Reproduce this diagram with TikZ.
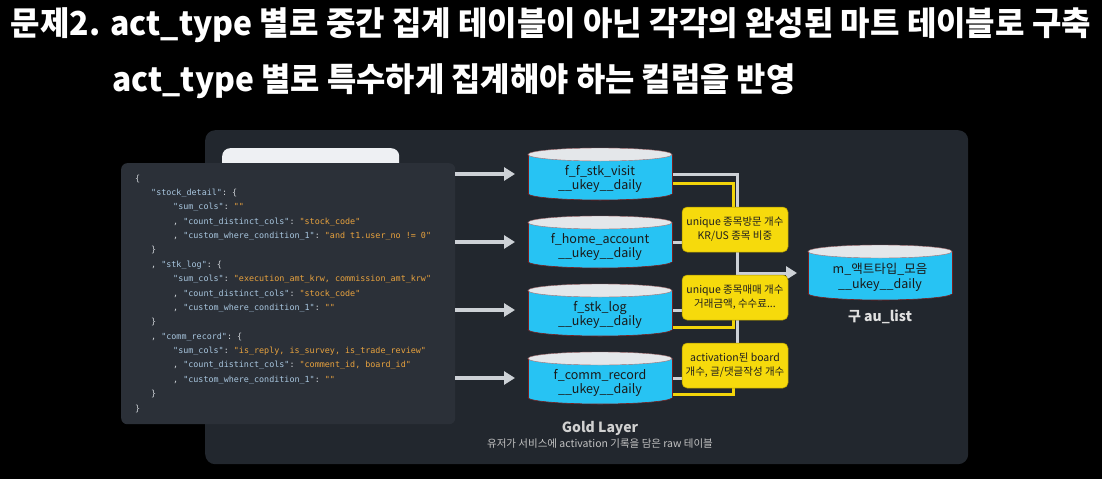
\documentclass[tikz,border=0pt]{standalone}
\usepackage{fontspec}
\setmainfont{Noto Sans CJK KR}
\setmonofont{DejaVu Sans Mono}
\usetikzlibrary{arrows.meta,calc}
\definecolor{goldpanel}{HTML}{22272E}
\definecolor{codepanel}{HTML}{2B3038}
\definecolor{whitebox}{HTML}{EEF0F3}
\definecolor{cylbody}{HTML}{27C3F3}
\definecolor{cyltop}{HTML}{E4E7EA}
\definecolor{cyledge}{HTML}{7A1E1E}
\definecolor{ybox}{HTML}{F6DA0C}
\definecolor{yedge}{HTML}{A89300}
\definecolor{yline}{HTML}{F2D40A}
\definecolor{gline}{HTML}{CDD1D6}
\definecolor{ckey}{HTML}{A9C7E0}
\definecolor{cval}{HTML}{E8A23E}
\definecolor{cpun}{HTML}{CFD3D8}
\newcommand\kq[1]{\textcolor{ckey}{"#1"}}
\newcommand\vq[1]{\textcolor{cval}{"#1"}}
\pgfdeclarelayer{bg}
\pgfdeclarelayer{wires}
\pgfsetlayers{bg,wires,main}
\newcommand\dbcyl[6]{% name, cx, top, height, line1, line2
  \fill[cylbody,draw=cyledge,line width=0.6pt] (#2,#3+#4-6.5) ellipse [x radius=72pt, y radius=6.5pt];
  \fill[cylbody] (#2-72,#3+6.5) rectangle (#2+72,#3+#4-6.5);
  \draw[cyledge,line width=0.6pt] (#2-72,#3+6.5) -- (#2-72,#3+#4-6.5) (#2+72,#3+6.5) -- (#2+72,#3+#4-6.5);
  \filldraw[fill=cyltop,draw=cyledge!60!cyltop,line width=0.4pt] (#2,#3+6.5) ellipse [x radius=72pt, y radius=6.5pt];
  \node[cylshape, minimum width=144pt, minimum height=#4 pt] (#1) at (#2,#3+#4/2) {};
  \node[cyltext] (#1-t) at (#2,#3+#4/2+5) {#5\\#6};
}
\tikzset{
  cylshape/.style={inner sep=0pt, outer sep=0pt},
  cyltext/.style={font=\fontsize{12.5}{14.5}\selectfont, text=black!90, align=center, inner sep=0pt},
  codeline/.style={font=\ttfamily\fontsize{8.4}{10}\selectfont, text=cpun, anchor=base west, inner sep=0pt},
  yellowbox/.style={fill=ybox, draw=yedge, line width=0.5pt, rounded corners=5pt, minimum width=106pt, minimum height=45pt, align=center, font=\fontsize{10.5}{14}\selectfont, text=black!88, inner sep=0pt},
  gwire/.style={draw=gline, line width=3pt},
  ywire/.style={draw=yline, line width=3pt},
  inarrow/.style={draw=gline, line width=3.5pt, -{Triangle[length=11pt,width=13pt]}},
  title/.style={font=\bfseries\fontsize{33}{36}\selectfont, text=white, inner sep=0pt},
}
\begin{document}
\begin{tikzpicture}[x=1pt,y=-1pt]
\useasboundingbox (0,0) rectangle (1102,479);

\begin{pgfonlayer}{bg}
\fill[black] (0,0) rectangle (1102,479);
\node[fill=goldpanel, rounded corners=10pt, minimum width=763pt, minimum height=334pt, anchor=north west, inner sep=0pt] (gold) at (205,130) {};
\node[fill=whitebox, rounded corners=8pt, minimum width=177pt, minimum height=30pt, anchor=north west, inner sep=0pt] (wbox) at (222,148) {};
\node[fill=codepanel, rounded corners=6pt, minimum width=334pt, minimum height=261pt, anchor=north west, inner sep=0pt] (code) at (121,163) {};
\end{pgfonlayer}

% title
\node[title] (t1) at (551,25) {\resizebox{1080pt}{\height}{문제2. act\_type 별로 중간 집계 테이블이 아닌 각각의 완성된 마트 테이블로 구축}};
\node[title] (t2) at (454,81) {\resizebox{683pt}{\height}{act\_type 별로 특수하게 집계해야 하는 컬럼을 반영}};

% code text
\node[codeline] (l0) at (135,181) {\{};
\node[codeline] (l1) at (151,195.4) {\kq{stock\_detail}: \{};
\node[codeline] (l2) at (173,209.8) {\kq{sum\_cols}: \vq{}};
\node[codeline] (l3) at (173,224.1) {, \kq{count\_distinct\_cols}: \vq{stock\_code}};
\node[codeline] (l4) at (173,238.5) {, \kq{custom\_where\_condition\_1}: \vq{and t1.user\_no != 0}};
\node[codeline] (l5) at (151,252.9) {\}};
\node[codeline] (l6) at (151,267.3) {, \kq{stk\_log}: \{};
\node[codeline] (l7) at (173,281.6) {\kq{sum\_cols}: \vq{execution\_amt\_krw, commission\_amt\_krw}};
\node[codeline] (l8) at (173,296) {, \kq{count\_distinct\_cols}: \vq{stock\_code}};
\node[codeline] (l9) at (173,310.4) {, \kq{custom\_where\_condition\_1}: \vq{}};
\node[codeline] (l10) at (151,324.8) {\}};
\node[codeline] (l11) at (151,339.1) {, \kq{comm\_record}: \{};
\node[codeline] (l12) at (173,353.5) {\kq{sum\_cols}: \vq{is\_reply, is\_survey, is\_trade\_review}};
\node[codeline] (l13) at (173,367.9) {, \kq{count\_distinct\_cols}: \vq{comment\_id, board\_id}};
\node[codeline] (l14) at (173,382.3) {, \kq{custom\_where\_condition\_1}: \vq{}};
\node[codeline] (l15) at (151,396.6) {\}};
\node[codeline] (l16) at (135,411) {\}};

% cylinders
\dbcyl{c1}{600}{148}{52}{f\_f\_stk\_visit}{\_\_ukey\_\_daily}
\dbcyl{c2}{600}{216}{52}{f\_home\_account}{\_\_ukey\_\_daily}
\dbcyl{c3}{600}{284}{52}{f\_stk\_log}{\_\_ukey\_\_daily}
\dbcyl{c4}{600}{352}{52}{f\_comm\_record}{\_\_ukey\_\_daily}
\dbcyl{ct}{880}{245}{55}{m\_액트타입\_모음}{\_\_ukey\_\_daily}

% yellow boxes
\node[yellowbox] (y1) at (735,229.5) {unique 종목방문 개수\\KR/US 종목 비중};
\node[yellowbox] (y2) at (735,297.5) {unique 종목매매 개수\\거래금액, 수수료...};
\node[yellowbox] (y3) at (735,365.5) {activation된 board\\개수, 글/댓글작성 개수};

% labels
\node[font=\bfseries\fontsize{14}{16}\selectfont, text=white!88!black, inner sep=0pt] (au) at (880,317) {구 au\_list};
\node[font=\bfseries\fontsize{14}{16}\selectfont, text=white!82!black, inner sep=0pt] (gl) at (600,428) {Gold Layer};
\node[font=\fontsize{10.5}{12}\selectfont, text=white!76!black, inner sep=0pt] (gs) at (600,444) {유저가 서비스에 activation 기록을 담은 raw 테이블};

\coordinate (bustop) at (737,174);
\coordinate (busbot) at (737,378);
\coordinate (busmid) at (737,273);

\begin{pgfonlayer}{wires}
% input arrows
\draw[inarrow, shorten >=13pt] (c1 -| code.east) -- (c1.west);
\draw[inarrow, shorten >=13pt] (c2 -| code.east) -- (c2.west);
\draw[inarrow, shorten >=13pt] (c3 -| code.east) -- (c3.west);
\draw[inarrow, shorten >=13pt] (c4 -| code.east) -- (c4.west);
% gray bus
\draw[gwire] (c1.east) -- (bustop) -- (busbot) -- (c4.east);
\draw[gwire] (c2.east) -- (c2.east -| bustop);
\draw[gwire] (c3.east) -- (c3.east -| bustop);
\draw[draw=gline, line width=3pt, -{Triangle[length=11pt,width=13pt]}, shorten >=11pt] (busmid) -- (busmid -| ct.west);
% yellow wires
\draw[ywire] ($(c1.east)+(0,9)$) -| ([xshift=-2pt]y1.north);
\draw[ywire] ($(c3.east)+(0,17)$) -| ([xshift=-2pt]y2.south);
\draw[ywire] ($(c4.east)+(0,16)$) -| ([xshift=-2pt]y3.south);
\end{pgfonlayer}
\end{tikzpicture}
\end{document}
